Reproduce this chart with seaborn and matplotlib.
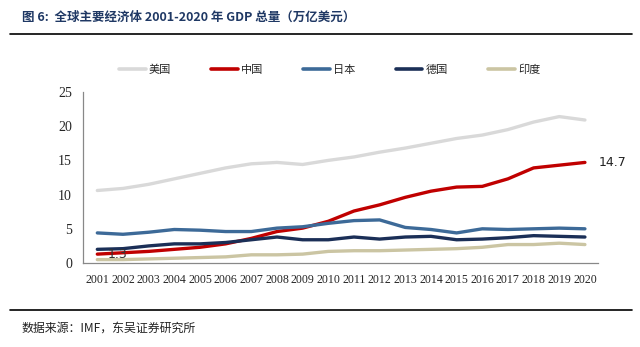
import matplotlib
matplotlib.use("Agg")
import matplotlib.pyplot as plt
import seaborn as sns
import pandas as pd
from matplotlib.ticker import MultipleLocator, FixedLocator

years = list(range(2001, 2021))
us = [10.6, 10.9, 11.5, 12.3, 13.1, 13.9, 14.5, 14.7, 14.4, 15.0, 15.5, 16.2, 16.8, 17.5, 18.2, 18.7, 19.5, 20.6, 21.4, 20.9]
china = [1.3, 1.5, 1.7, 2.0, 2.3, 2.8, 3.6, 4.6, 5.1, 6.1, 7.6, 8.5, 9.6, 10.5, 11.1, 11.2, 12.3, 13.9, 14.3, 14.7]
japan = [4.4, 4.2, 4.5, 4.9, 4.8, 4.6, 4.6, 5.1, 5.3, 5.8, 6.2, 6.3, 5.2, 4.9, 4.4, 5.0, 4.9, 5.0, 5.1, 5.0]
germany = [2.0, 2.1, 2.5, 2.8, 2.8, 3.0, 3.4, 3.8, 3.4, 3.4, 3.8, 3.5, 3.8, 3.9, 3.4, 3.5, 3.7, 4.0, 3.9, 3.8]
india = [0.5, 0.5, 0.6, 0.7, 0.8, 0.9, 1.2, 1.2, 1.3, 1.7, 1.8, 1.8, 1.9, 2.0, 2.1, 2.3, 2.7, 2.7, 2.9, 2.7]
series_names = ["美国", "中国", "日本", "德国", "印度"]
colors = ["#d9d9d9", "#c00000", "#3d6a98", "#1b2f57", "#cbc5a3"]

sns.set_theme(style="white")
plt.rcParams["font.family"] = ["Liberation Serif", "Noto Sans CJK SC", "DejaVu Sans"]

rows = []
for name, vals in zip(series_names, [us, china, japan, germany, india]):
    for y, v in zip(years, vals):
        rows.append({"year": y, "value": v, "country": name})
df = pd.DataFrame(rows)

fig = plt.figure(figsize=(6.4, 3.47), dpi=100)
ax = fig.add_axes([0.13, 0.242, 0.804, 0.493])
sns.lineplot(data=df, x="year", y="value", hue="country", hue_order=series_names,
             palette=colors, linewidth=2.4, ax=ax, legend=False)

ax.set_xlim(2000.45, 2020.5)
ax.set_ylim(0, 25)
ax.set_xlabel("")
ax.set_ylabel("")
ax.xaxis.set_major_locator(FixedLocator(years))
ax.xaxis.set_minor_locator(FixedLocator([y + 0.5 for y in years[:-1]] + [2000.5, 2020.5]))
ax.set_xticklabels([str(y) for y in years], fontsize=8.6, fontfamily="Liberation Serif")
ax.yaxis.set_major_locator(MultipleLocator(5))
ax.tick_params(axis="x", which="major", length=0, pad=8)
ax.tick_params(axis="x", which="minor", length=3, direction="in", color="#888888", width=0.8)
ax.tick_params(axis="y", which="major", length=0, labelsize=10, pad=8)
for s in ["top", "right"]:
    ax.spines[s].set_visible(False)
for s in ["left", "bottom"]:
    ax.spines[s].set_color("#888888")
    ax.spines[s].set_linewidth(0.9)

ax.text(2001.8, 1.2, "1.3", fontsize=9, fontfamily="DejaVu Sans", color="#333333",
        ha="center", va="center")
ax.text(2020.55, 14.7, "14.7", fontsize=9, fontfamily="DejaVu Sans", color="#222222",
        ha="left", va="center")

handles = [plt.Line2D([0], [0], color=c, lw=2.6) for c in colors]
fig.legend(handles, series_names, loc="center", bbox_to_anchor=(0.515, 0.798), ncol=5,
           frameon=False, handlelength=2.4, columnspacing=3.6, handletextpad=0.3,
           prop={"family": ["Noto Sans CJK SC"], "size": 8})

fig.text(0.034, 0.95, "图 6:  全球主要经济体 2001-2020 年 GDP 总量（万亿美元）",
         fontsize=9, fontweight="bold", color="#1f3864", va="center",
         family=["Noto Sans CJK SC", "DejaVu Sans"])
fig.add_artist(plt.Line2D([0.016, 0.988], [0.902, 0.902], color="black", lw=1.2))
fig.add_artist(plt.Line2D([0.016, 0.988], [0.107, 0.107], color="black", lw=1.2))
fig.text(0.034, 0.055, "数据来源：IMF，东吴证券研究所", fontsize=8.6, color="#222222",
         va="center", family=["Noto Sans CJK SC", "DejaVu Sans"])

fig.savefig("out.png", dpi=100)
